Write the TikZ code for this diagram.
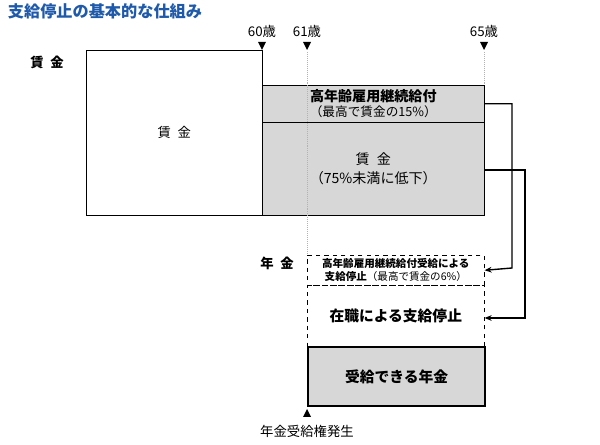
\documentclass[tikz,border=0pt]{standalone}
\usepackage{fontspec}
\setmainfont{Noto Sans CJK JP}
\usetikzlibrary{positioning,calc,arrows.meta}
\definecolor{titleblue}{RGB}{31,90,170}
\definecolor{boxgray}{RGB}{215,215,215}

\begin{document}
\begin{tikzpicture}[x=0.025cm,y=-0.025cm,
                    every node/.style={font=\fontsize{9.5}{12}\selectfont},
                    plain box/.style={draw,anchor=north west,inner sep=0pt,align=center},
                    gray box/.style={plain box,fill=boxgray},
                    dash box/.style={plain box,dashed},
                    link/.style={line width=1pt,-{Stealth[length=5pt,width=4pt]}}
                   ]
   \useasboundingbox (0,0) rectangle (600,445);
   \node[anchor=west,font=\fontsize{11.5}{13}\selectfont\bfseries,text=titleblue] (title) at (3,11) {支給停止の基本的な仕組み};
   % wages
   \node[font=\fontsize{9.5}{12}\selectfont\bfseries] (wlabel) at (47,62) {賃\enspace 金};
   \node[plain box,minimum width=4.4cm,minimum height=4.125cm] (wage) at (86,50) {賃\enspace 金};
   \node[gray box,minimum width=5.55cm,minimum height=0.925cm,font=\fontsize{9}{11}\selectfont] (benefit) at (262,85)
        {\textbf{\fontsize{10}{11}\selectfont 高年齢雇用継続給付}\\（最高で賃金の15\%）};
   \node[gray box,minimum width=5.55cm,minimum height=2.325cm,font=\fontsize{10}{14}\selectfont] (lowwage) at (262,122)
        {賃\enspace 金\\（75\%未満に低下）};
   % ages
   \foreach \x/\t in {262/60, 307/61, 484/65} {
     \node (age\t) at (\x,31) {\t 歳};
     \fill (\x-4,42) -- (\x+4,42) -- (\x,50) -- cycle;
   }
   \draw[densely dotted,gray!60] (307,52) -- (307,255);
   \draw[densely dotted,gray!60] (484,52) -- (484,85);
   % pension
   \node[font=\fontsize{9.5}{12}\selectfont\bfseries] (plabel) at (277,263) {年\enspace 金};
   \node[dash box,minimum width=4.425cm,minimum height=1.525cm,font=\fontsize{10.5}{12}\selectfont\bfseries] (work) at (307,285) {在職による支給停止};
   \node[dash box,minimum width=4.425cm,minimum height=0.75cm,font=\fontsize{7.5}{9.5}\selectfont] (stop) at (307,255)
        {\textbf{高年齢雇用継続給付受給による}\\\textbf{支給停止}（最高で賃金の6\%）};
   \node[gray box,line width=1.6pt,minimum width=4.425cm,minimum height=1.475cm,font=\fontsize{10.5}{12}\selectfont\bfseries] (pension) at (307,346) {受給できる年金};
   \fill (303,417) -- (311,417) -- (307,409) -- cycle;
   \node (right) at (307,431) {年金受給権発生};
   % links
   \draw[link] (benefit.east) -| (512,268) -- (stop.east);
   \draw[link] ($(lowwage.north east)+(0,48)$) -| (525,318) -- (work.east |- 0,318);
\end{tikzpicture}
\end{document}
